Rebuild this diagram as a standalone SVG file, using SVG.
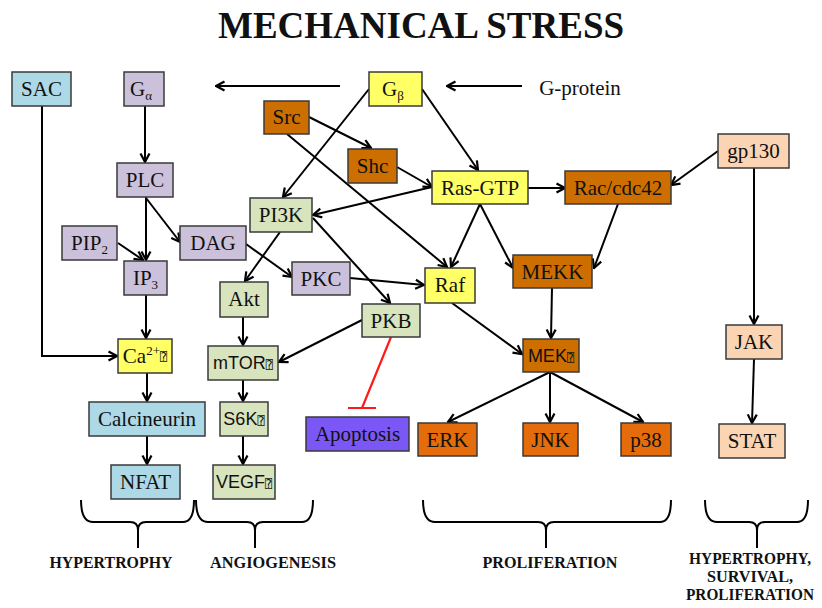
<svg xmlns="http://www.w3.org/2000/svg" width="822" height="608" viewBox="0 0 822 608">
<style>
svg{background:#fff}
text.t{font-family:"Liberation Serif","Times New Roman",serif;font-size:21px;fill:#111;text-anchor:middle}
text.s{font-family:"Liberation Sans",Arial,sans-serif;font-size:18px;fill:#111;text-anchor:middle}
.q{font-family:"DejaVu Sans Mono","DejaVu Sans",monospace;font-size:12px}
.lab{font-family:"Liberation Serif","Times New Roman",serif;font-size:17px;font-weight:bold;fill:#111;text-anchor:middle}
.lab2{font-family:"Liberation Serif","Times New Roman",serif;font-size:16px;font-weight:bold;fill:#111;text-anchor:middle}
.box{stroke:#3a3a3a;stroke-width:1.5}
.blue{fill:#ADD8E6}.lav{fill:#CCC1DA}.yel{fill:#FFFF66}.org{fill:#CC6F00}.org2{fill:#E46C0A}.grn{fill:#D7E4BD}.pch{fill:#FBD4B4}.vio{fill:#7B57F5}
.c{fill:none;stroke:#000;stroke-width:2;marker-end:url(#ah)}
.br{fill:none;stroke:#000;stroke-width:2}
</style>
<defs>
<marker id="ah" viewBox="0 0 12 12" refX="10.5" refY="6" markerWidth="12" markerHeight="12" markerUnits="userSpaceOnUse" orient="auto">
<path d="M2,1.5 L10.5,6 L2,10.5" fill="none" stroke="#000" stroke-width="2.2"/>
</marker>
</defs>
<rect width="822" height="608" fill="#fff"/>
<text x="421" y="38" font-family="Liberation Serif,'Times New Roman',serif" font-size="37" font-weight="bold" text-anchor="middle" fill="#111">MECHANICAL STRESS</text>

<g id="connectors">
<path class="c" d="M340,86 L216,86"/>
<path class="c" d="M522,86 L447,86"/>
<path class="c" d="M145,106 L145,162"/>
<path class="c" d="M42,106 L42,356 L117,356"/>
<path class="c" d="M146,197 L146,260"/>
<path class="c" d="M146,198 L180,242"/>
<path class="c" d="M118,243 L143,260"/>
<path class="c" d="M246,244 L292,277"/>
<path class="c" d="M146,295 L146,338"/>
<path class="c" d="M147,373 L147,401"/>
<path class="c" d="M147,436 L147,464"/>
<path class="c" d="M369,89 L283,197"/>
<path class="c" d="M309,117 L371,148"/>
<path class="c" d="M287,134 L447,267"/>
<path class="c" d="M397,167 L432,187"/>
<path class="c" d="M422,89 L478,170"/>
<path class="c" d="M432,187 L313,215"/>
<path class="c" d="M528,188 L565,188"/>
<path class="c" d="M480,204 L451,267"/>
<path class="c" d="M480,204 L513,268"/>
<path class="c" d="M618,204 L594,268"/>
<path class="c" d="M718,151 L671,185"/>
<path class="c" d="M754,168 L754,324"/>
<path class="c" d="M754,359 L752,423"/>
<path class="c" d="M552,288 L551,338"/>
<path class="c" d="M452,303 L522,354"/>
<path class="c" d="M550,372 L448,422"/>
<path class="c" d="M550,372 L550,422"/>
<path class="c" d="M550,372 L643,422"/>
<path class="c" d="M280,232 L245,281"/>
<path class="c" d="M313,218 L390,303"/>
<path class="c" d="M350,278 L424,285"/>
<path class="c" d="M243,317 L243,345"/>
<path class="c" d="M362,320 L279,362"/>
<path class="c" d="M243,380 L243,401"/>
<path class="c" d="M243,436 L243,464"/>
<path d="M391,337 L362,408 M348,408 L376,408" fill="none" stroke="#FF1A1A" stroke-width="2.2"/>
</g>

<g font-family="Liberation Serif, Times New Roman, serif" font-size="21" fill="#111" text-anchor="middle">
<g id="SAC"><rect class="box blue" x="12" y="72" width="59" height="34"/><text class="t" x="41.5" y="96">SAC</text></g>
<g id="Galpha"><rect class="box lav" x="124" y="72" width="40" height="34"/><text class="t" x="141" y="96">G<tspan font-size="13" dy="4">α</tspan></text></g>
<g id="PLC"><rect class="box lav" x="117" y="163" width="56" height="34"/><text class="t" x="145" y="187">PLC</text></g>
<g id="PIP2"><rect class="box lav" x="62" y="226" width="55" height="34"/><text class="t" x="89.5" y="250">PIP<tspan font-size="13" dy="4">2</tspan></text></g>
<g id="DAG"><rect class="box lav" x="180" y="226" width="66" height="34"/><text class="t" x="213" y="250">DAG</text></g>
<g id="IP3"><rect class="box lav" x="124" y="261" width="43" height="34"/><text class="t" x="145.5" y="285">IP<tspan font-size="13" dy="4">3</tspan></text></g>
<g id="PKC"><rect class="box lav" x="292" y="262" width="58" height="33"/><text class="t" x="321" y="286">PKC</text></g>
<g id="Ca"><rect class="box yel" x="118" y="339" width="54" height="34"/><text class="t" x="145" y="363">Ca<tspan font-size="13" dy="-8">2+</tspan><tspan class="q" dy="6">⍰</tspan></text></g>
<g id="Calcineurin"><rect class="box blue" x="89" y="402" width="116" height="34"/><text class="t" x="147" y="426">Calcineurin</text></g>
<g id="NFAT"><rect class="box blue" x="111" y="465" width="69" height="34"/><text class="t" x="145.5" y="489">NFAT</text></g>
<g id="Gbeta"><rect class="box yel" x="369" y="72" width="53" height="34"/><text class="t" x="393" y="96">G<tspan font-size="13" dy="4">β</tspan></text></g>
<g id="Gprotein"><text class="t" x="580" y="95">G-protein</text></g>
<g id="Src"><rect class="box org" x="264" y="101" width="45" height="33"/><text class="t" x="286.5" y="124">Src</text></g>
<g id="Shc"><rect class="box org" x="348" y="149" width="49" height="34"/><text class="t" x="372.5" y="173">Shc</text></g>
<g id="RasGTP"><rect class="box yel" x="432" y="171" width="96" height="33"/><text class="t" x="480" y="195">Ras-GTP</text></g>
<g id="Rac"><rect class="box org" x="565" y="171" width="106" height="33"/><text class="t" x="618" y="195">Rac/cdc42</text></g>
<g id="gp130"><rect class="box pch" x="718" y="134" width="71" height="34"/><text class="t" x="753.5" y="158">gp130</text></g>
<g id="PI3K"><rect class="box grn" x="250" y="198" width="62" height="34"/><text class="t" x="281" y="222">PI3K</text></g>
<g id="Akt"><rect class="box grn" x="220" y="282" width="48" height="35"/><text class="t" x="244" y="306">Akt</text></g>
<g id="PKB"><rect class="box grn" x="362" y="304" width="58" height="33"/><text class="t" x="391" y="328">PKB</text></g>
<g id="Raf"><rect class="box yel" x="425" y="268" width="50" height="35"/><text class="t" x="450" y="292">Raf</text></g>
<g id="MEKK"><rect class="box org" x="513" y="255" width="79" height="33"/><text class="t" x="552.5" y="279">MEKK</text></g>
<g id="Apoptosis"><rect class="box vio" x="306" y="417" width="103" height="34"/><text class="t" x="357.5" y="441">Apoptosis</text></g>
<g id="ERK"><rect class="box org2" x="418" y="423" width="59" height="33"/><text class="t" x="447.5" y="447">ERK</text></g>
<g id="JNK"><rect class="box org2" x="523" y="423" width="55" height="33"/><text class="t" x="550.5" y="447">JNK</text></g>
<g id="p38"><rect class="box org2" x="621" y="423" width="50" height="33"/><text class="t" x="646" y="447">p38</text></g>
<g id="JAK"><rect class="box pch" x="726" y="325" width="56" height="34"/><text class="t" x="754" y="349">JAK</text></g>
<g id="STAT"><rect class="box pch" x="719" y="424" width="66" height="34"/><text class="t" x="752" y="448">STAT</text></g>
</g>
<g font-family="Liberation Sans, Arial, sans-serif" font-size="18" fill="#111" text-anchor="middle">
<g id="mTOR"><rect class="box grn" x="208" y="346" width="70" height="34"/><text class="s" x="243" y="369">mTOR<tspan class="q">⍰</tspan></text></g>
<g id="S6K"><rect class="box grn" x="220" y="402" width="48" height="34"/><text class="s" x="244" y="425">S6K<tspan class="q">⍰</tspan></text></g>
<g id="VEGF"><rect class="box grn" x="213" y="465" width="62" height="34"/><text class="s" x="244" y="488">VEGF<tspan class="q">⍰</tspan></text></g>
<g id="MEK"><rect class="box org" x="523" y="339" width="56" height="33"/><text class="s" x="551" y="362">MEK<tspan class="q">⍰</tspan></text></g>
</g>

<g id="brackets">
<path class="br" d="M81,500 Q81,522 93,522 L130,522 Q138,522 138,530 L138,548 M138,530 Q138,522 146,522 L183,522 Q194,522 194,500"/>
<path class="br" d="M196,500 Q196,522 208,522 L247,522 Q255,522 255,530 L255,548 M255,530 Q255,522 263,522 L302,522 Q313,522 313,500"/>
<path class="br" d="M423,500 Q423,522 435,522 L538,522 Q546,522 546,530 L546,548 M546,530 Q546,522 554,522 L660,522 Q671,522 671,500"/>
<path class="br" d="M705,500 Q705,522 717,522 L749,522 Q757,522 757,530 L757,548 M757,530 Q757,522 765,522 L797,522 Q808,522 808,500"/>
</g>
<g id="labels">
<text class="lab" x="111" y="568" textLength="123" lengthAdjust="spacingAndGlyphs">HYPERTROPHY</text>
<text class="lab" x="273" y="568" textLength="126" lengthAdjust="spacingAndGlyphs">ANGIOGENESIS</text>
<text class="lab" x="550" y="568" textLength="135" lengthAdjust="spacingAndGlyphs">PROLIFERATION</text>
<text class="lab2" x="750" y="564" textLength="122" lengthAdjust="spacingAndGlyphs">HYPERTROPHY,</text>
<text class="lab2" x="750" y="582" textLength="86" lengthAdjust="spacingAndGlyphs">SURVIVAL,</text>
<text class="lab2" x="750" y="600" textLength="128" lengthAdjust="spacingAndGlyphs">PROLIFERATION</text>
</g>
</svg>
